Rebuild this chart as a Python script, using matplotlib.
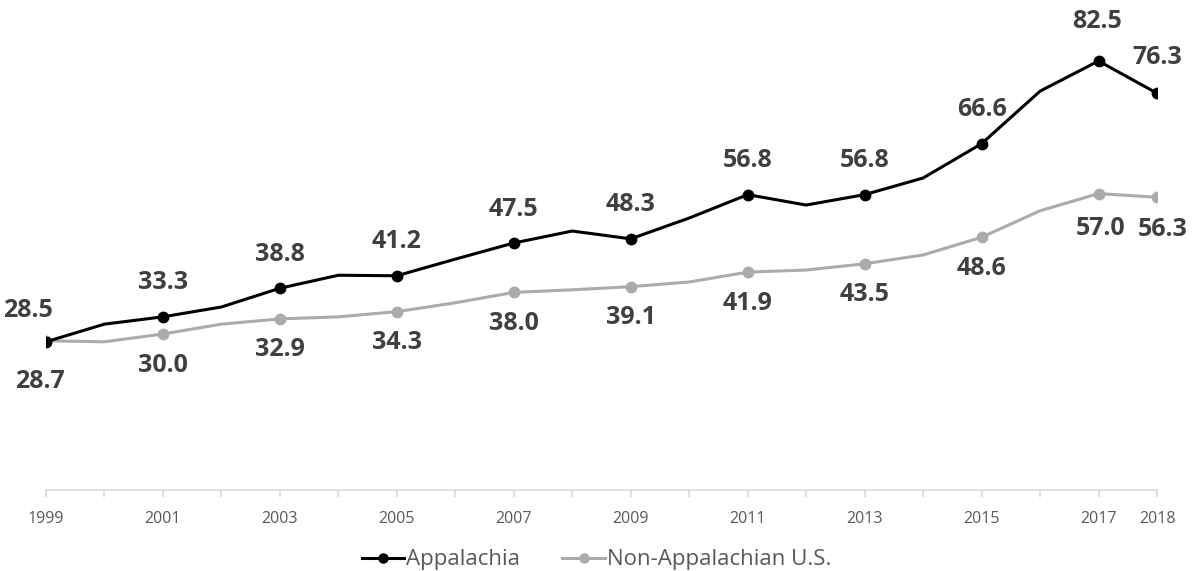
import matplotlib.pyplot as plt
import numpy as np

plt.rcParams['font.family'] = ['Open Sans', 'DejaVu Sans']

years = list(range(1999, 2019))
appalachia = [28.5, 31.9, 33.3, 35.2, 38.8, 41.3, 41.2, 44.4, 47.5, 49.8,
              48.3, 52.3, 56.8, 54.8, 56.8, 60.0, 66.6, 76.7, 82.5, 76.3]
non_app = [28.7, 28.5, 30.0, 31.9, 32.9, 33.3, 34.3, 36.0, 38.0, 38.5,
           39.1, 40.0, 41.9, 42.3, 43.5, 45.2, 48.6, 53.7, 57.0, 56.3]
marker_years = [1999, 2001, 2003, 2005, 2007, 2009, 2011, 2013, 2015, 2017, 2018]
tick_labels = [str(y) if (y % 2 == 1 or y == 2018) else '' for y in years]

fig = plt.figure(figsize=(11.93, 5.71), dpi=100)
ax = fig.add_axes([46/1193, 81/571, 1111/1193, 468/571])

idx = [years.index(y) for y in marker_years]
a_col = 'black'
n_col = '#ABABAB'
lab_col = '#404040'

ax.plot(years, non_app, color=n_col, lw=2.2, zorder=2)
ax.plot([years[i] for i in idx], [non_app[i] for i in idx], 'o', color=n_col, ms=7.5, zorder=3)
ax.plot(years, appalachia, color=a_col, lw=2.2, zorder=4)
ax.plot([years[i] for i in idx], [appalachia[i] for i in idx], 'o', color=a_col, ms=7.5, zorder=5)

# label offsets in pixels (dx, dy)
a_off = {1999: (-18, 31), 2017: (-2, 40), 2018: (0, 36)}
n_off = {1999: (-6, -41), 2017: (2, -35), 2018: (6, -32)}
for i in idx:
    y = years[i]
    dx, dy = a_off.get(y, (0, 34))
    ax.annotate(f'{appalachia[i]:.1f}', (y, appalachia[i]), xytext=(dx, dy),
                textcoords='offset pixels', ha='center', va='center',
                fontsize=18, fontweight='bold', color=lab_col)
    dx, dy = n_off.get(y, (0, -31))
    ax.annotate(f'{non_app[i]:.1f}', (y, non_app[i]), xytext=(dx, dy),
                textcoords='offset pixels', ha='center', va='center',
                fontsize=18, fontweight='bold', color=lab_col)

ax.set_xlim(1999, 2018)
ax.set_ylim(0, 90)
ax.set_xticks(years)
ax.set_xticklabels(tick_labels, fontsize=11.5, color='#595959')
ax.set_yticks([])
for s in ['top', 'left', 'right']:
    ax.spines[s].set_visible(False)
ax.spines['bottom'].set_color('#D9D9D9')
ax.spines['bottom'].set_linewidth(1.2)
ax.tick_params(axis='x', length=5, width=1.2, color='#D9D9D9', pad=10)

h1, = ax.plot([], [], '-o', color=a_col, lw=2.2, ms=6.5, label='Appalachia')
h2, = ax.plot([], [], '-o', color=n_col, lw=2.2, ms=6.5, label='Non-Appalachian U.S.')
fig.legend(handles=[h1, h2], loc='center', bbox_to_anchor=(0.5, 11/571),
           ncol=2, frameon=False, fontsize=16, labelcolor='#595959',
           handlelength=1.9, handletextpad=0.1, columnspacing=1.9)

fig.savefig('out.png', dpi=100)
